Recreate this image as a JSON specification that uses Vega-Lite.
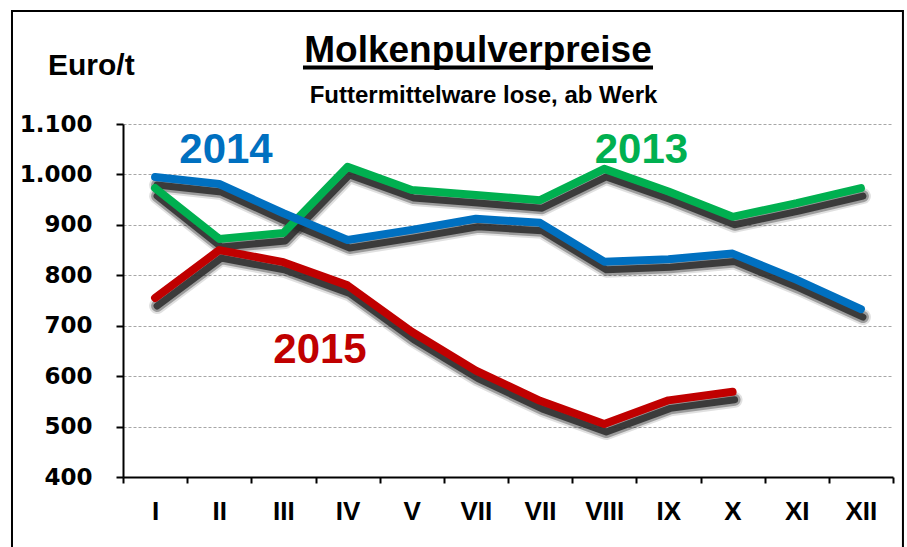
{
  "$schema": "https://vega.github.io/schema/vega-lite/v6.json",
  "width": 770,
  "height": 353,
  "autosize": {"type": "none"},
  "padding": {"left": 123, "top": 124, "right": 14, "bottom": 70},
  "background": "white",
  "config": {
    "view": {"stroke": null},
    "axis": {"domainColor": "black", "domainWidth": 2, "tickColor": "black", "tickWidth": 2, "labelColor": "black"}
  },
  "data": {
    "values": [
      {"month": 1, "year": "2013", "price": 973},
      {"month": 2, "year": "2013", "price": 872},
      {"month": 3, "year": "2013", "price": 884},
      {"month": 4, "year": "2013", "price": 1015},
      {"month": 5, "year": "2013", "price": 969},
      {"month": 6, "year": "2013", "price": 959},
      {"month": 7, "year": "2013", "price": 949},
      {"month": 8, "year": "2013", "price": 1011},
      {"month": 9, "year": "2013", "price": 966},
      {"month": 10, "year": "2013", "price": 916},
      {"month": 11, "year": "2013", "price": 943},
      {"month": 12, "year": "2013", "price": 973},
      {"month": 1, "year": "2014", "price": 995},
      {"month": 2, "year": "2014", "price": 981},
      {"month": 3, "year": "2014", "price": 923},
      {"month": 4, "year": "2014", "price": 870},
      {"month": 5, "year": "2014", "price": 890},
      {"month": 6, "year": "2014", "price": 912},
      {"month": 7, "year": "2014", "price": 904},
      {"month": 8, "year": "2014", "price": 827},
      {"month": 9, "year": "2014", "price": 832},
      {"month": 10, "year": "2014", "price": 843},
      {"month": 11, "year": "2014", "price": 791},
      {"month": 12, "year": "2014", "price": 733},
      {"month": 1, "year": "2015", "price": 755},
      {"month": 2, "year": "2015", "price": 850},
      {"month": 3, "year": "2015", "price": 826},
      {"month": 4, "year": "2015", "price": 780},
      {"month": 5, "year": "2015", "price": 688},
      {"month": 6, "year": "2015", "price": 611},
      {"month": 7, "year": "2015", "price": 551},
      {"month": 8, "year": "2015", "price": 505},
      {"month": 9, "year": "2015", "price": 552},
      {"month": 10, "year": "2015", "price": 569}
    ]
  },
  "layer": [
    {
      "data": {"values": [{}]},
      "mark": {"type": "rect", "fill": null, "stroke": "black", "strokeWidth": 2},
      "encoding": {
        "x": {"datum": -1.23},
        "x2": {"datum": 12.655},
        "y": {"datum": 1324},
        "y2": {"datum": 235}
      }
    },
    {
      "data": {"values": [{}]},
      "mark": {"type": "text", "font": "Liberation Sans", "fontSize": 37, "fontWeight": "bold", "color": "black", "align": "center", "baseline": "alphabetic"},
      "encoding": {"x": {"datum": 6.032}, "y": {"datum": 1223}, "text": {"value": "Molkenpulverpreise"}}
    },
    {
      "data": {"values": [{}]},
      "mark": {"type": "rule", "stroke": "black", "strokeWidth": 4},
      "encoding": {
        "x": {"datum": 3.305},
        "x2": {"datum": 8.76},
        "y": {"datum": 1212}
      }
    },
    {
      "data": {"values": [{}]},
      "mark": {"type": "text", "font": "Liberation Sans", "fontSize": 24, "fontWeight": "bold", "color": "black", "align": "center", "baseline": "alphabetic"},
      "encoding": {"x": {"datum": 6.118}, "y": {"datum": 1142}, "text": {"value": "Futtermittelware lose, ab Werk"}}
    },
    {
      "data": {"values": [{}]},
      "mark": {"type": "text", "font": "Liberation Sans", "fontSize": 30, "fontWeight": "bold", "color": "black", "align": "left", "baseline": "alphabetic"},
      "encoding": {"x": {"datum": -0.669}, "y": {"datum": 1197}, "text": {"value": "Euro/t"}}
    },
    {
      "mark": {"type": "line", "stroke": "#000000", "strokeWidth": 16, "opacity": 0.12, "xOffset": 2, "yOffset": 8, "strokeCap": "round", "strokeJoin": "round"},
      "encoding": {
        "x": {"field": "month", "type": "quantitative"},
        "y": {"field": "price", "type": "quantitative"},
        "detail": {"field": "year"}
      }
    },
    {
      "mark": {"type": "line", "stroke": "#000000", "strokeWidth": 12, "opacity": 0.3, "xOffset": 2, "yOffset": 8, "strokeCap": "round", "strokeJoin": "round"},
      "encoding": {
        "x": {"field": "month", "type": "quantitative"},
        "y": {"field": "price", "type": "quantitative"},
        "detail": {"field": "year"}
      }
    },
    {
      "mark": {"type": "line", "stroke": "#2a2a2a", "strokeWidth": 7, "opacity": 0.85, "xOffset": 2, "yOffset": 8, "strokeCap": "round", "strokeJoin": "round"},
      "encoding": {
        "x": {"field": "month", "type": "quantitative"},
        "y": {"field": "price", "type": "quantitative"},
        "detail": {"field": "year"}
      }
    },
    {
      "mark": {"type": "line", "strokeWidth": 8, "strokeCap": "round", "strokeJoin": "round"},
      "encoding": {
        "x": {
          "field": "month",
          "type": "quantitative",
          "scale": {"domain": [0.5, 12.5], "nice": false, "zero": false},
          "axis": {
            "title": null,
            "values": [0.5, 1.5, 2.5, 3.5, 4.5, 5.5, 6.5, 7.5, 8.5, 9.5, 10.5, 11.5, 12.5],
            "labelExpr": "['I','II','III','IV','V','VII','VII','VIII','IX','X','XI','XII',''][round(datum.value - 0.5)]",
            "labelOffset": 32,
            "labelFlush": false,
            "labelOverlap": false,
            "labelBound": false,
            "labelFont": "Liberation Sans Narrow, Liberation Sans",
            "labelFontSize": 26,
            "labelFontWeight": "bold",
            "labelPadding": 15,
            "tickSize": 6,
            "grid": false
          }
        },
        "y": {
          "field": "price",
          "type": "quantitative",
          "scale": {"domain": [400, 1100], "nice": false, "zero": false},
          "axis": {
            "title": null,
            "values": [400, 500, 600, 700, 800, 900, 1000, 1100],
            "labelExpr": "replace(format(datum.value, ','), ',', '.')",
            "labelFont": "DejaVu Sans",
            "labelFontSize": 23,
            "labelFontWeight": "bold",
            "labelPadding": 24,
            "tickSize": 7,
            "grid": true,
            "gridColor": "#a6a6a6",
            "gridWidth": 1,
            "gridDash": [3, 2]
          }
        },
        "color": {
          "field": "year",
          "type": "nominal",
          "scale": {"domain": ["2013", "2014", "2015"], "range": ["#00B050", "#0070C0", "#C00000"]},
          "legend": null
        }
      }
    },
    {
      "data": {"values": [{}]},
      "mark": {"type": "text", "font": "Liberation Sans", "fontSize": 42, "fontWeight": "bold", "color": "#0070C0", "align": "center", "baseline": "alphabetic"},
      "encoding": {"x": {"datum": 2.105}, "y": {"datum": 1023}, "text": {"value": "2014"}}
    },
    {
      "data": {"values": [{}]},
      "mark": {"type": "text", "font": "Liberation Sans", "fontSize": 42, "fontWeight": "bold", "color": "#00B050", "align": "center", "baseline": "alphabetic"},
      "encoding": {"x": {"datum": 8.58}, "y": {"datum": 1023}, "text": {"value": "2013"}}
    },
    {
      "data": {"values": [{}]},
      "mark": {"type": "text", "font": "Liberation Sans", "fontSize": 42, "fontWeight": "bold", "color": "#C00000", "align": "center", "baseline": "alphabetic"},
      "encoding": {"x": {"datum": 3.57}, "y": {"datum": 626}, "text": {"value": "2015"}}
    }
  ]
}
